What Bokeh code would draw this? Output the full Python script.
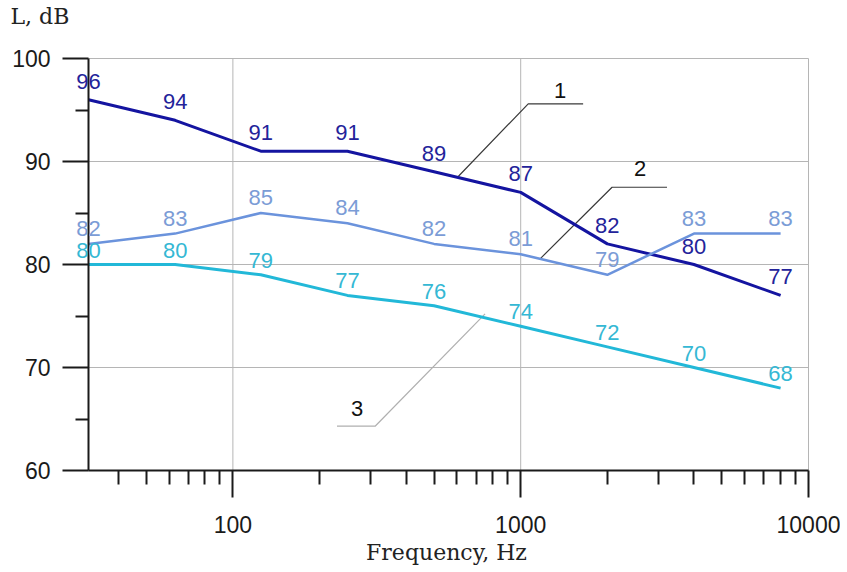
import math
from bokeh.plotting import figure
from bokeh.models import Range1d, FixedTicker, LabelSet, Label, ColumnDataSource
from bokeh.core.properties import value
from bokeh.embed import file_html
from bokeh.resources import INLINE

# ---- data ----
freq = [31.5, 63, 125, 250, 500, 1000, 2000, 4000, 8000]
level_1 = [96, 94, 91, 91, 89, 87, 82, 80, 77]
level_2 = [82, 83, 85, 84, 82, 81, 79, 83, 83]
level_3 = [80, 80, 79, 77, 76, 74, 72, 70, 68]

x_major = [100, 1000, 10000]
x_tick_labels = ["100", "1000", "10000"]
x_minor = [k * 10 ** d for d in (1, 2, 3) for k in range(2, 10) if k * 10 ** d >= 40]
y_major = [60, 70, 80, 90, 100]
y_minor = [65, 75, 85, 95]

# callouts (leader lines) in data coordinates
callout_1_x = [602, 1062, 1648]
callout_1_y = [88.45, 95.6, 95.6]
callout_2_x = [1168, 2077, 3224]
callout_2_y = [80.55, 87.5, 87.5]
callout_3_x = [752, 312, 230]
callout_3_y = [75.2, 64.3, 64.3]
callout_names = ["1", "2", "3"]
callout_text_x = [1371, 2600, 270]
callout_text_y = [96.9, 89.3, 66.0]

SANS = "Liberation Sans"
SERIF = "DejaVu Serif"

# ---- canvas / scale layout (axes drawn at fixed locations inside the frame) ----
W, H = 840, 566
AX_LEFT_PX, AX_RIGHT_PX = 88, 808      # x = 31.5 .. 10000
AX_TOP_PX, AX_BOTTOM_PX = 58, 470      # y = 100 .. 60
x_lo, x_hi = freq[0], x_major[-1]
y_lo, y_hi = y_major[0], y_major[-1]
dec_px = (AX_RIGHT_PX - AX_LEFT_PX) / (math.log10(x_hi) - math.log10(x_lo))
unit_px = (AX_BOTTOM_PX - AX_TOP_PX) / (y_hi - y_lo)


def fx(px):
    return 10 ** (math.log10(x_lo) + (px - AX_LEFT_PX) / dec_px)


def fy(py):
    return y_hi - (py - AX_TOP_PX) / unit_px


p = figure(width=W, height=H, x_axis_type="log",
           x_range=Range1d(fx(0), fx(W)), y_range=Range1d(fy(H), fy(0)),
           output_backend="svg", toolbar_location=None,
           min_border=0, min_border_left=0, min_border_right=0,
           min_border_top=0, min_border_bottom=0)
p.title.visible = False
p.outline_line_color = None
p.background_fill_color = "white"
p.border_fill_color = "white"
p.xgrid.visible = False
p.ygrid.visible = False

# grid lines (bounded to the axes box)
p.segment(x0=x_major, x1=x_major, y0=[y_lo] * len(x_major), y1=[y_hi] * len(x_major),
          line_color="#b5b5b5", line_width=1)
p.segment(x0=[x_lo] * len(y_major), x1=[x_hi] * len(y_major), y0=y_major, y1=y_major,
          line_color="#b5b5b5", line_width=1)

# axes
xa = p.xaxis[0]
xa.ticker = FixedTicker(ticks=x_major, minor_ticks=x_minor)
xa.major_label_overrides = {t: s for t, s in zip(x_major, x_tick_labels)}
xa.fixed_location = y_lo
xa.bounds = (x_lo, x_hi)
ya = p.yaxis[0]
ya.ticker = FixedTicker(ticks=y_major, minor_ticks=y_minor)
ya.fixed_location = x_lo
ya.bounds = (y_lo, y_hi)
for ax in (xa, ya):
    ax.axis_line_width = 2
    ax.axis_line_color = "#1a1a1a"
    ax.major_tick_line_width = 2
    ax.minor_tick_line_width = 2
    ax.major_tick_line_color = "#1a1a1a"
    ax.minor_tick_line_color = "#1a1a1a"
    ax.major_tick_in = 0
    ax.minor_tick_in = 0
    ax.major_label_text_font = SANS
    ax.major_label_text_font_size = "23px"
    ax.major_label_text_color = "#1a1a1a"
xa.major_tick_out = 27
xa.minor_tick_out = 14
xa.major_label_standoff = 18
ya.major_tick_out = 26
ya.minor_tick_out = 13
ya.major_label_standoff = 12

# series
series = [
    (level_1, "#1414a0", "#23239a", 3, 11),
    (level_2, "#6b93dc", "#7b9cd6", 2.5, 8),
    (level_3, "#22b8d8", "#35b8d4", 3, 7),
]

# callout lines
for cx, cy, col in [(callout_1_x, callout_1_y, "#3a3a3a"),
                    (callout_2_x, callout_2_y, "#3a3a3a"),
                    (callout_3_x, callout_3_y, "#b0b0b0")]:
    p.line(cx, cy, line_color=col, line_width=1.2)

for vals, lc, tc, lw, off in series:
    p.line(freq, vals, line_color=lc, line_width=lw)
    src = ColumnDataSource(dict(x=freq, y=vals, t=[str(v) for v in vals]))
    p.add_layout(LabelSet(x="x", y="y", text="t", source=src,
                          text_align="center", text_baseline="bottom",
                          y_offset=off, text_color=tc,
                          text_font=value(SANS), text_font_size=value("22px")))

csrc = ColumnDataSource(dict(x=callout_text_x, y=callout_text_y, t=callout_names))
p.add_layout(LabelSet(x="x", y="y", text="t", source=csrc,
                      text_align="center", text_baseline="middle",
                      text_color="#111111",
                      text_font=value(SANS), text_font_size=value("22px")))

# axis titles
p.add_layout(Label(x=fx(10), y=fy(16), text="L, dB", text_align="left",
                   text_baseline="middle", text_font=SERIF,
                   text_font_size="22px", text_color="#222222"))
p.add_layout(Label(x=fx(446), y=fy(552), text="Frequency, Hz", text_align="center",
                   text_baseline="middle", text_font=SERIF,
                   text_font_size="22px", text_color="#222222"))

open("out.html", "w").write(file_html(p, INLINE))
